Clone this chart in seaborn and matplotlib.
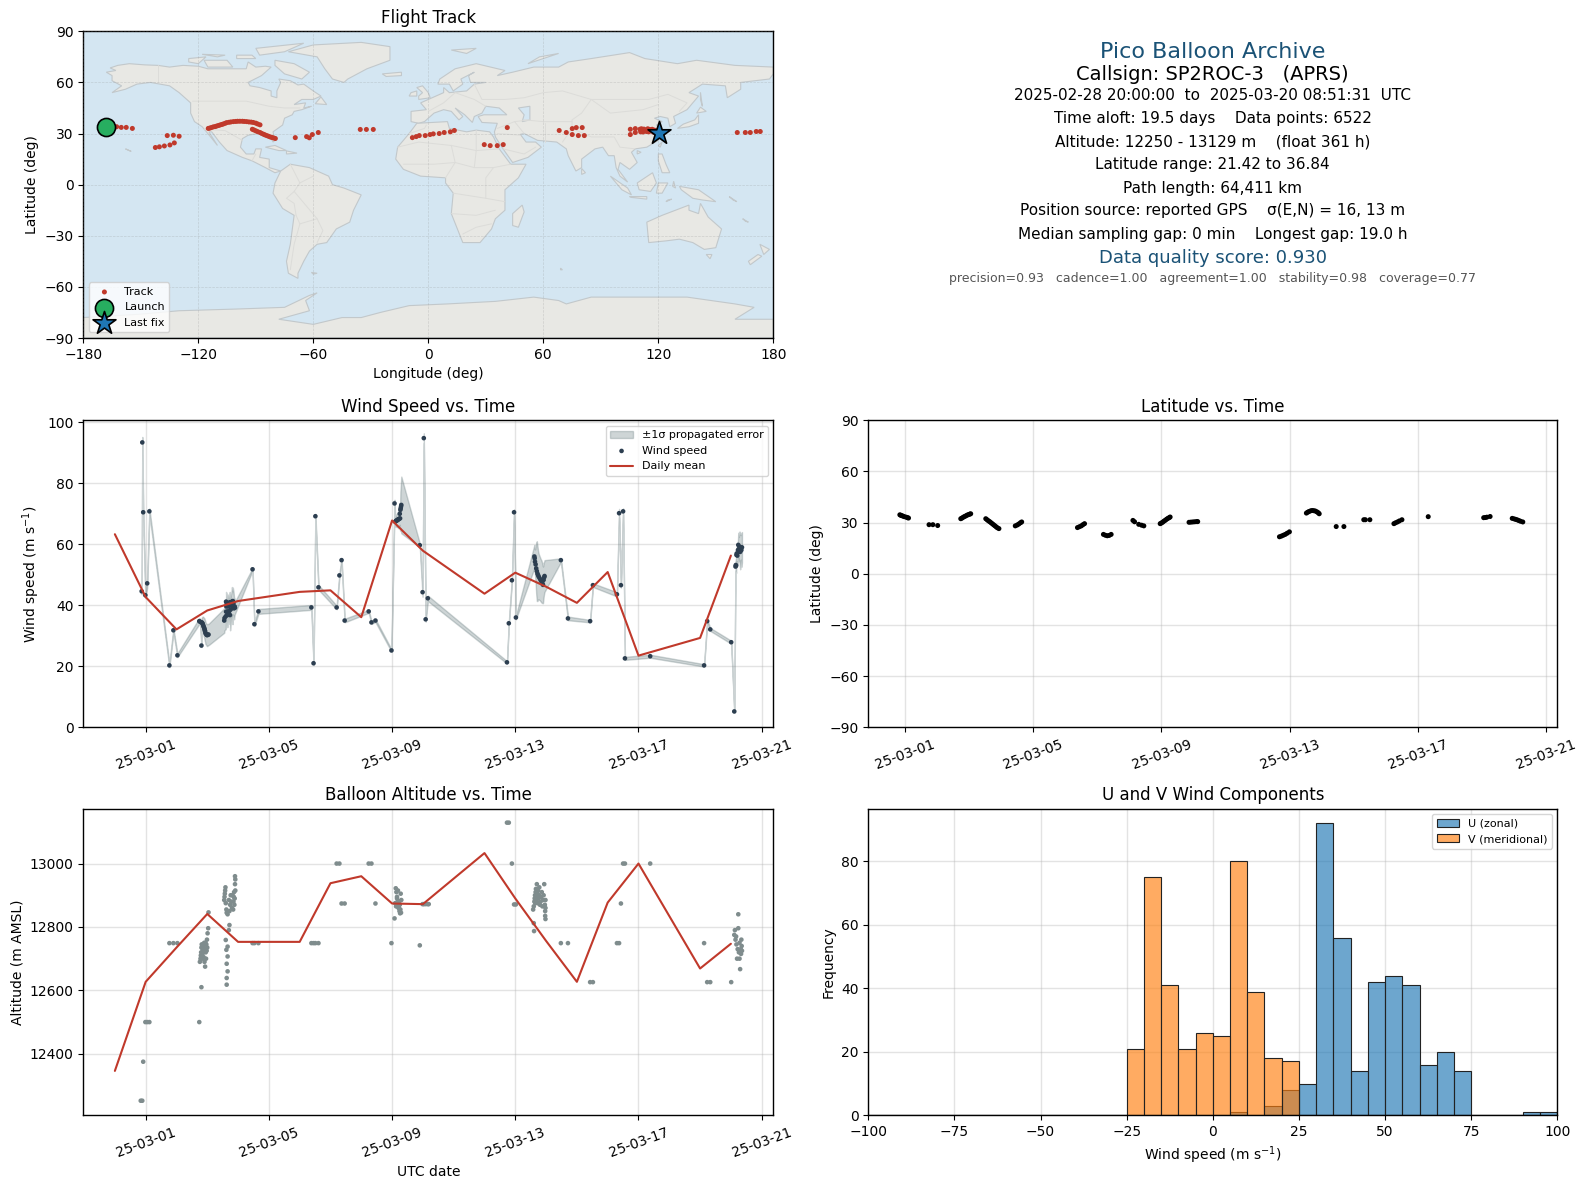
import numpy as np
import pandas as pd
import matplotlib
matplotlib.use("Agg")
import matplotlib.pyplot as plt
import matplotlib.dates as mdates
import seaborn as sns

W, H = 1587, 1189
BASE = pd.Timestamp("2025-03-01")

# ---------- flight track (lon, lat) ----------
track_lon = [-168,-165,-162.6,-160.2,-157.6,-154.4,-142.4,-140.3,-137.7,-134.8,-132.5,-136.2,-133,-130,
 -114.8,-114,-113.2,-112.2,-111.2,-110.4,-109.5,-108.7,-107.8,-107,-106,-105.2,-104,-103,-101.7,-100.5,-99.5,-98.3,-97,-96,-94.8,-93.6,-92.4,-91.3,-90,-89,-87.8,
 -91.8,-91,-90,-89,-87.8,-87,-86,-85.2,-84.3,-83.4,-82.5,-81.6,-80.7,-79.8,
 -69.4,-63.5,-62.1,-60.5,-57.4,-35.5,-32.3,-28.7,-8.3,-6.3,-4.7,-1.6,0.9,2.6,5.7,8.3,11.5,13.6,
 29.2,32.3,36,39.1,41.2,68.3,72,75.1,77.2,80.3,75.1,78.3,81.4,
 105.4,105.4,108,108,110.4,110.8,111.2,112,112.5,113,113.8,114.5,115,115.5,116.2,116.8,117.5,118,118.8,119.5,120.3,
 161.2,165.4,168,171.1,173.2]
track_lat = [34.1,34.2,34,33.6,33.6,33,21.8,22.2,22.7,23.3,24.5,28.8,29,28.4,
 33,33.2,33.5,33.9,34.1,34.4,34.7,35,35.3,35.6,36,36.4,36.6,36.8,37,37.1,37.2,37.2,37.2,37.1,37,36.8,36.7,36.5,36.1,35.6,35.1,
 32.5,32.1,31.6,31.1,30.6,30.1,29.6,29.2,28.8,28.4,28,27.7,27.4,27.1,
 27.6,28.2,27.5,29.4,30.6,32.4,32.4,32.4,27.6,28.2,28.8,28.8,29.4,29.8,30,30.6,31,31.8,
 23.5,22.9,22.9,23.5,33.5,31.8,30.6,32.9,33.5,33.5,29.4,28.8,28.8,
 32.5,29.4,32.9,30.6,32.5,31,32.8,30.9,32.6,32,31.2,32.8,31,32.4,31.6,32.5,30.8,32,31.2,31.6,30.6,
 30.6,30.6,30.6,31.2,31.2]
launch_lon, launch_lat = [-168], [34.1]
last_lon, last_lat = [120.3], [30.6]

# ---------- coarse geography (lon, lat) ----------
north_america = [(-168,66),(-163,67),(-166,68.5),(-162,70),(-156,71),(-148,70.3),(-141,70),(-135,69),(-128,70),(-120,69.5),(-115,68),(-108,68),(-100,68),(-95,68),(-94,72),(-90,69),(-85,69.5),(-82,69),(-87,64),(-94,60),(-93,58),(-88,57),(-82,55),(-82,52),(-79,51),(-79,55),(-77,60),(-78,62),(-72,61),(-68,58.5),(-65,59),(-60,55),(-56,52),(-60,50),(-66,50),(-70,47),(-64,48),(-65,45),(-61,46),(-66,44),(-70,43),(-71,41),(-75,39),(-76,35),(-81,31),(-80,26),(-81,25),(-83,29),(-89,30),(-94,29),(-97,27),(-98,22),(-95,18),(-91,18),(-90,21),(-87,21),(-88,16),(-83,15),(-83,10),(-80,9),(-77,8),(-80,7),(-85,10),(-92,14),(-97,16),(-105,20),(-109,25),(-113,31),(-114.5,31),(-110,23),(-115,30),(-118,34),(-122,37),(-124,42),(-124,48),(-130,54),(-135,58),(-145,60),(-152,59),(-158,56),(-165,54),(-160,58),(-165,61),(-165,64)]
south_america = [(-77,8),(-72,12),(-62,10),(-52,5),(-50,0),(-44,-2),(-35,-6),(-39,-15),(-41,-22),(-48,-26),(-53,-34),(-58,-35),(-62,-39),(-65,-45),(-68,-52),(-68,-55),(-73,-52),(-74,-45),(-72,-35),(-70,-18),(-76,-14),(-81,-5),(-80,1)]
greenland = [(-73,78),(-60,82),(-35,83.5),(-20,81),(-20,73),(-32,68),(-42,62),(-44,60),(-50,62),(-54,68),(-58,75)]
eurasia = [(-9,37),(-9,43),(-1,44),(-4,48),(2,51),(8,54),(8,57),(11,54),(20,55),(24,59),(30,60),(22,60),(21,64),(24,66),(17,62),(18,59),(13,55),(11,59),(5,59),(6,62),(14,68),(25,71),(40,67),(36,64),(44,66),(55,69),(68,69),(73,72),(85,74),(105,77.5),(113,74),(130,71),(140,73),(160,70),(180,69),(180,65),(178,62),(163,60),(163,56),(156,51),(155,58),(143,59),(136,54),(141,52),(135,44),(128,40),(129,36),(126,34),(125,39),(121,40),(118,39),(122,37),(119,35),(122,31),(120,26),(114,22),(108,21),(106,19),(109,13),(105,9),(100,13),(99,9),(104,1.5),(100,5),(98,10),(97,17),(94,17),(91,22),(87,21),(80,15),(80,10),(77,8),(73,17),(72,21),(67,25),(57,26),(50,30),(48,29.5),(51,25),(56,25),(59,22),(52,16),(44,13),(39,21),(35,28),(34.5,31),(36,36),(28,36.5),(26,40),(29,41),(41,41),(37,45),(30,46),(28,42),(24,40),(23,36.5),(19,41),(14,45),(18,40),(16,38),(12,43),(8,44),(3,42),(0,39),(-2,37),(-5,36)]
africa = [(-6,36),(10,37),(11,33),(20,31),(25,32),(32,31),(34,28),(37,21),(43,12),(51,12),(47,4),(40,-3),(40,-15),(35,-20),(33,-26),(27,-34),(18,-34),(12,-17),(13,-5),(9,1),(9,4),(-4,5),(-13,9),(-17,15),(-16,22),(-10,30)]
australia = [(114,-22),(122,-18),(129,-15),(136,-12),(136,-15),(141,-17),(142,-11),(146,-19),(153,-26),(150,-37),(144,-38),(138,-34),(131,-32),(124,-33),(115,-34)]
antarctica = [(-180,-90),(-180,-78),(-150,-76),(-130,-74),(-100,-73),(-75,-72),(-62,-65),(-58,-63.5),(-64,-68),(-62,-74),(-78,-79),(-60,-82),(-45,-78),(-35,-78),(-25,-75),(-10,-71),(10,-70),(35,-68.5),(55,-66),(68,-68),(72,-70),(85,-66),(110,-66),(135,-66),(160,-70),(170,-72),(160,-79),(180,-79),(180,-90)]
islands = [
 [(-80,73),(-70,71),(-62,66),(-66,62),(-75,65),(-80,70)],
 [(-117,73),(-105,73),(-102,69),(-115,69)],
 [(-90,80),(-65,83),(-75,78),(-88,76)],
 [(-125,74),(-116,75),(-120,71),(-125,72)],
 [(-100,76),(-92,76),(-90,74),(-100,74)],
 [(-118,76.5),(-106,76),(-110,75)],
 [(-59,47.5),(-53,47),(-56,51.5)],
 [(-85,22),(-80,23),(-74,20),(-78,20)],
 [(-74,19.8),(-68.5,18.5),(-74,18)],
 [(49,-12),(50,-16),(47,-25),(44,-24),(44,-17)],
 [(-5,50),(1,51),(0,54),(-3,58),(-6,57),(-3,54),(-5,52)],
 [(-10,52),(-6,52),(-6,55),(-9,54)],
 [(-24,65),(-14,66),(-14,64),(-22,63.5)],
 [(12,79),(25,80),(20,77)],
 [(52,71),(68,77),(58,75)],
 [(130,33),(136,34),(141,36),(141,41),(139,38),(133,35.5)],
 [(140,42),(145,43),(142,45.5)],
 [(142,54),(143,46),(142,50)],
 [(120,23),(122,25),(121,22)],
 [(120,18),(122,18),(124,12),(126,7),(122,7),(120,14)],
 [(109,1),(117,7),(119,1),(116,-4),(110,-3)],
 [(95,5),(104,-2),(106,-6),(101,-3)],
 [(105,-7),(114,-7),(114,-8.5),(106,-7.5)],
 [(119,-5),(120,1),(125,1),(122,-5)],
 [(131,-1),(141,-3),(150,-10),(143,-9),(138,-8),(132,-3)],
 [(145,-41),(148,-41),(147,-43.5)],
 [(173,-35),(178,-38),(175,-41)],
 [(172,-41),(174,-42),(168,-47),(167,-45)],
 [(80,9.5),(82,7),(80,6)],
 [(-158,21),(-155,19.5),(-156,20)],
 [(164,-20),(167,-22),(165.5,-21.5)],
 [(157,-7),(161,-10),(159,-9)],
 [(69,-49),(70,-50),(69,-50)],
 [(-61,-51.5),(-58,-52),(-60,-52.5)],
 [(124,-10),(127,-8.5),(125,-9)],
 [(128,2),(129,-2),(127.5,-1)],
 [(109,20),(111,19),(109,18)],
]
caspian = [(47,45),(53,46),(53,38),(49,37),(50,41)]
borders = [
 [(-141,70),(-141,60)], [(-123,49),(-95,49),(-83,46),(-75,45),(-67,45)], [(-117,32.5),(-106,31.7),(-97,26)],
 [(-92,14),(-90,18)], [(-72,12),(-67,1),(-70,-4),(-74,-8),(-70,-11),(-69,-18)], [(-60,5),(-67,1)], [(-70,-4),(-58,-20),(-55,-27),(-58,-34)],
 [(-69,-18),(-67,-23),(-70,-35),(-72,-50)], [(-67,-23),(-58,-20)],
 [(-10,30),(-2,33),(-1,35)], [(-16,22),(-5,25),(12,23),(25,20),(37,21)], [(25,32),(25,20),(24,10),(34,10),(43,12)], [(12,23),(14,13),(3,12),(-13,12)],
 [(14,13),(24,10)], [(9,4),(14,13)], [(13,-5),(30,-8),(40,-10)], [(30,-8),(30,4),(34,10)], [(12,-17),(25,-18),(35,-15)], [(18,-29),(25,-25),(33,-23)],
 [(0,43),(8,48),(14,54)], [(14,54),(24,50),(30,46)], [(24,59),(28,50),(40,50),(50,51),(60,54),(70,55),(85,50),(100,50),(115,50),(125,53),(135,48),(131,43)],
 [(85,50),(80,42),(75,38),(75,33),(85,28),(97,28),(100,22),(108,21)], [(85,50),(95,42),(112,44),(120,47)], [(50,38),(60,37),(75,37)], [(45,37),(50,30)], [(61,36),(61,25)],
 [(36,33),(45,37),(53,38)], [(75,33),(70,25)], [(36,30),(48,29)], [(39,21),(50,18),(56,22)],
]

# ---------- wind speed vs time (days since 2025-03-01, m/s) ----------
wind_t = [-0.13,-0.11,-0.08,-0.01,0.05,0.12,0.77,0.90,1.03,
 1.74,1.77,1.81,1.82,1.84,1.85,1.87,1.88,1.90,1.91,1.92,1.93,1.94,1.96,1.98,2.00,2.02,2.04,
 2.55,2.56,2.60,2.61,2.61,2.62,2.63,2.65,2.66,2.68,2.69,2.71,2.73,2.74,2.76,2.78,2.80,2.82,2.83,2.85,2.87,2.89,2.90,
 3.47,3.53,3.66,5.38,5.45,5.51,5.61,6.20,6.29,6.36,6.46,7.24,7.33,7.46,7.98,8.08,
 8.10,8.12,8.14,8.16,8.18,8.20,8.21,8.23,8.25,8.26,8.27,8.28,8.29,8.30,8.90,8.99,9.03,9.09,9.16,
 11.73,11.79,11.89,11.96,12.02,
 12.62,12.63,12.64,12.66,12.68,12.70,12.72,12.74,12.76,12.79,12.82,12.85,12.88,12.90,12.92,12.94,12.95,
 13.48,13.71,14.43,14.52,15.30,15.37,15.43,15.50,15.56,16.38,18.13,18.23,18.33,19.01,19.11,
 19.15,19.16,19.17,19.18,19.19,19.21,19.23,19.24,19.26,19.28,19.30,19.32,19.34,19.36]
wind_v = [44.6,93.4,70.5,43.3,47.2,70.8,20.3,31.8,23.6,
 34.8,34.6,26.8,34.4,34.2,33.9,33.4,33,32.6,32.2,31.8,31.5,30.9,30.6,30.3,30.2,30.4,30.4,
 35,35.8,36.4,37.9,41.2,39.6,40.8,36.8,38,39.6,40.2,38,41,36.8,38.6,40,41.2,39.2,41.4,40.6,39,39.6,39.2,
 51.8,33.8,38,39.3,21,69.2,45.9,39.3,49.8,54.8,35,38,34.4,35,25.2,73.4,
 67.4,67.6,67.8,67.8,68,68.2,68.2,68.4,70,68.5,71.3,71.8,72.4,72.9,59.7,44.3,94.8,35.4,42.3,
 21.3,34.1,48.2,70.5,36,
 56,55.4,54.3,53.4,52.1,51.2,50.4,49.9,49.4,48.9,48.3,47.8,47.2,46.7,48.3,49.2,49.6,
 54.8,35.7,34.8,46.6,43.6,70.2,46.6,70.8,22.6,23.3,20.3,34.8,32.1,27.9,5.2,
 52.7,53.2,53,56.5,57,56.3,58.1,59.8,58.4,59.2,57.5,59,58.1,59]
wind_sigma = [1,1.8,1.6,1,1.5,1,0.6,0.7,0.6,
 1,1,0.5,1.5,2,2.4,2.8,3,3.2,3.4,3.5,3.5,3.6,3.5,3.6,3.6,3.5,3.5,
 4,4,4.2,3,3.2,3,3,4,4,3.6,3.4,4,3.4,5,4.5,4,4.8,5.4,4.4,4,3.6,2.6,2,
 0.4,0.6,0.8,0.8,0.6,0.8,0.8,0.6,0.7,0.7,0.6,0.5,0.5,0.5,0.4,1.2,
 1.5,1.8,2,2.2,2.4,2.6,3,3,3.6,4,6,7,8,9.3,0.6,1.5,1.6,0.8,0.9,
 0.4,0.5,0.7,1,0.6,
 3.8,3.8,4,6,8.5,9.8,9,8,7.5,7.2,7,6.9,6.5,6,5.6,5.2,5.2,
 0.6,0.6,0.4,0.6,0.7,1.4,0.8,1,0.5,0.5,0.4,0.6,0.5,0.5,0.4,
 1.6,2,2.4,2.2,2.6,3,3.4,4,4,5,5.7,4,5.5,5]
mean_days = [-1,0,1,2,3,5,6,7,8,9,11,12,13,14,15,16,18,19]
mean_wind = [63.3,42.7,32.1,38.3,41.4,44.4,44.9,36.1,67.8,57.9,43.8,50.7,46.1,40.8,50.9,23.5,29.3,56.3]
mean_alt = [12346,12627,12735,12841,12753,12753,12938,12960,12874,12872,13033,12890,12756,12627,12877,13000,12669,12747]

# ---------- latitude vs time ----------
lat_t = [-0.16,-0.13,-0.10,-0.06,-0.02,0.04,0.08,0.11,0.75,0.87,1.02,
 1.74,1.78,1.82,1.86,1.90,1.94,1.98,2.02,2.05,
 2.52,2.56,2.60,2.64,2.68,2.72,2.76,2.80,2.84,2.88,2.93,
 3.44,3.50,3.55,3.60,3.64,5.38,5.44,5.50,5.55,5.60,
 6.19,6.25,6.31,6.37,6.43,7.11,7.16,7.29,7.38,7.45,
 7.96,8.00,8.04,8.08,8.12,8.16,8.20,8.24,8.27,8.86,8.92,8.98,9.04,9.10,9.13,
 11.68,11.74,11.80,11.86,11.92,11.99,
 12.52,12.56,12.60,12.65,12.70,12.75,12.80,12.85,12.89,12.92,13.45,13.69,14.31,14.36,14.50,
 15.25,15.30,15.36,15.42,15.50,16.32,18.05,18.10,18.15,18.25,
 18.94,19.00,19.05,19.10,19.15,19.20,19.27]
lat_v = [34.6,34.3,34.1,33.8,33.5,33.2,32.9,32.7,28.8,28.8,28.3,
 32.3,32.7,33.2,33.6,34,34.4,34.7,35,35.2,
 32.3,31.7,31.1,30.6,30,29.4,28.8,28.2,27.6,27,26.5,
 28.1,28.6,29.2,29.9,30.4,27.1,27.6,28.1,28.8,29.4,
 23.1,22.6,22.3,22.5,23.1,31.3,30.5,29,28.5,28.1,
 29.4,29.8,30.3,30.9,31.4,32,32.5,32.9,33.3,30.2,30.3,30.4,30.5,30.6,30.6,
 21.7,22.1,22.6,23.1,23.8,24.6,
 35.6,36.1,36.5,36.9,37.1,37,36.8,36.3,35.8,35.2,27.7,27.7,31.7,31.7,31.7,
 29.4,29.9,30.4,31,31.7,33.5,32.9,33,33.2,33.6,
 32.5,32.2,31.9,31.6,31.2,30.8,30.4]

# ---------- altitude vs time ----------
alt_t = [-0.16,-0.11,-0.08,-0.01,0.05,0.12,0.77,0.90,1.03,1.74,1.81,
 1.76,1.78,1.79,1.80,1.81,1.82,1.83,1.84,1.85,1.86,1.87,1.88,1.89,1.90,1.91,1.92,1.93,1.94,1.95,1.96,1.97,1.98,1.99,2.00,2.01,2.03,2.04,
 2.63,2.63,2.66,2.63,2.66,2.62,2.66,2.60,2.70,2.72,
 2.55,2.56,2.57,2.58,2.59,2.60,2.62,2.63,2.66,2.70,2.72,2.74,2.76,2.78,2.80,2.82,2.84,2.85,2.86,2.87,2.88,2.89,2.90,2.90,2.91,2.91,
 3.47,3.53,3.66,5.38,5.45,5.51,5.61,6.20,6.29,6.36,6.46,7.24,7.33,7.46,7.98,8.08,
 8.12,8.14,8.16,8.18,8.20,8.22,8.24,8.26,8.28,8.30,8.10,8.13,8.16,8.19,8.21,8.23,8.25,8.27,8.29,8.90,8.99,9.03,9.09,9.16,9.19,
 11.73,11.79,11.89,11.96,12.02,12.60,12.61,
 12.58,12.60,12.62,12.63,12.64,12.65,12.66,12.67,12.68,12.69,12.70,12.72,12.73,12.74,12.75,12.77,12.78,12.80,12.82,12.84,12.86,12.88,12.90,12.92,12.94,12.96,12.97,12.97,12.98,12.98,12.98,
 13.48,13.71,14.43,14.52,15.30,15.37,15.43,15.50,15.56,16.38,18.13,18.23,18.33,19.01,19.11,19.13,19.15,19.17,
 19.18,19.20,19.22,19.24,19.24,19.26,19.28,19.28,19.30,19.32,19.33,19.34,19.35,19.36]
alt_v = [12252,12252,12375,12500,12500,12500,12749,12749,12749,12500,12610,
 12690,12700,12710,12720,12735,12745,12700,12715,12730,12745,12720,12705,12735,12750,12690,12730,12675,12750,12720,12700,12745,12725,12760,12735,12780,12796,12846,
 12618,12639,12660,12684,12707,12728,12738,12759,12790,12806,
 12885,12895,12905,12915,12925,12875,12855,12845,12840,12885,12850,12870,12900,12880,12860,12900,12855,12880,12895,12910,12870,12890,12960,12935,12915,12950,
 12749,12749,12749,12749,12749,12749,12749,13000,13000,12874,12874,13000,13000,12874,12749,12827,
 12922,12910,12895,12880,12870,12860,12850,12843,12905,12885,12875,12865,12890,12915,12860,12880,12870,12855,12845,12742,12872,12872,12872,12872,12872,
 13129,13129,13000,12871,12871,12812,12787,
 12855,12865,12880,12890,12900,12875,12910,12920,12895,12885,12935,12905,12875,12915,12890,12900,12925,12870,12880,12895,12910,12865,12885,12900,12935,12870,12850,12835,12885,12860,12825,
 12749,12749,12626,12626,12749,12749,12874,13000,13000,13000,12749,12626,12626,12626,12775,12790,12760,12770,
 12745,12700,12730,12840,12796,12720,12750,12700,12667,12730,12715,12760,12740,12725]

# ---------- histogram ----------
bin_edges = list(range(-100, 105, 5))
u_counts = [0]*21 + [1,0,3,8,10,92,56,14,42,44,41,16,20,14,0,0,0,1,1]
v_counts = [0]*15 + [21,75,41,21,26,25,80,39,18,17] + [0]*15

# ---------- info panel ----------
info_lines = [
 ("Pico Balloon Archive", 16, "#1a5276", 52),
 ("Callsign: SP2ROC-3   (APRS)", 14, "black", 75),
 ("2025-02-28 20:00:00  to  2025-03-20 08:51:31  UTC", 11, "black", 96),
 ("Time aloft: 19.5 days    Data points: 6522", 11, "black", 119),
 ("Altitude: 12250 - 13129 m    (float 361 h)", 11, "black", 142),
 ("Latitude range: 21.42 to 36.84", 11, "black", 165),
 ("Path length: 64,411 km", 11, "black", 188),
 ("Position source: reported GPS    σ(E,N) = 16, 13 m", 11, "black", 211),
 ("Median sampling gap: 0 min    Longest gap: 19.0 h", 11, "black", 234),
 ("Data quality score: 0.930", 13, "#1a5276", 258),
 ("precision=0.93   cadence=1.00   agreement=1.00   stability=0.98   coverage=0.77", 9, "#555555", 279),
]

RED = "#c0392b"
NAVY = "#2c3e50"
GREY = "#7f8c8d"
TICK_DAYS = [1, 5, 9, 13, 17, 21]

def to_dates(days):
    return BASE + pd.to_timedelta(np.asarray(days, dtype=float), unit="D")

def make_axes(l, t, r, b):
    return fig.add_axes([l / W, 1 - b / H, (r - l) / W, (b - t) / H])

def soft_grid(ax):
    ax.grid(True, color="#b0b0b0", alpha=0.35, linewidth=1)
    ax.set_axisbelow(True)

def date_axis(ax, t0=-2.025, t1=20.377):
    ax.set_xlim(to_dates([t0])[0], to_dates([t1])[0])
    ax.xaxis.set_major_locator(mdates.DayLocator(bymonthday=TICK_DAYS))
    ax.xaxis.set_major_formatter(mdates.DateFormatter("%y-%m-%d"))
    ax.tick_params(axis="x", rotation=20)
    ax.set_xlabel("")

sns.set_theme(style="white", rc={"axes.edgecolor": "black", "axes.linewidth": 1.0,
                                  "xtick.bottom": True, "ytick.left": True,
                                  "text.color": "black", "axes.labelcolor": "black",
                                  "xtick.color": "black", "ytick.color": "black",
                                  "font.size": 10, "axes.labelsize": 10, "axes.titlesize": 12,
                                  "xtick.labelsize": 10, "ytick.labelsize": 10,
                                  "xtick.major.size": 3.5, "ytick.major.size": 3.5,
                                  "xtick.major.width": 0.8, "ytick.major.width": 0.8,
                                  "font.family": "DejaVu Sans"})

fig = plt.figure(figsize=(W / 100, H / 100), dpi=100)
L1, R1, L2, R2 = 83.3, 773.3, 868.3, 1557.3
ax_map = make_axes(L1, 31.3, R1, 338)
ax_info = make_axes(L2, 31.3, R2, 338)
ax_wind = make_axes(L1, 420.3, R1, 727.3)
ax_lat = make_axes(L2, 420.3, R2, 727.3)
ax_alt = make_axes(L1, 808.7, R1, 1115.3)
ax_hist = make_axes(L2, 808.7, R2, 1115.3)

# --- map ---
ax_map.set_facecolor("#d4e6f2")
for poly in [north_america, south_america, greenland, eurasia, africa, australia, antarctica] + islands:
    xs, ys = zip(*poly)
    ax_map.fill(xs, ys, facecolor="#e8e8e4", edgecolor="#c2c8cb", linewidth=0.8, zorder=1)
xs, ys = zip(*caspian)
ax_map.fill(xs, ys, facecolor="#d4e6f2", edgecolor="#c2c8cb", linewidth=0.8, zorder=1.1)
for line in borders:
    xs, ys = zip(*line)
    ax_map.plot(xs, ys, color="#dcdcd9", linewidth=0.7, zorder=1.2)
ax_map.grid(True, color="#808080", alpha=0.25, linestyle="--", linewidth=0.5, zorder=1.5)
ax_map.set_axisbelow(False)
sns.scatterplot(x=track_lon, y=track_lat, ax=ax_map, color=RED, s=13, edgecolor="none", label="Track", zorder=3)
sns.scatterplot(x=launch_lon, y=launch_lat, ax=ax_map, color="#27ae60", s=170, edgecolor="black", linewidth=1.2, label="Launch", zorder=4)
sns.scatterplot(x=last_lon, y=last_lat, ax=ax_map, color="#1f77b4", marker="*", s=300, edgecolor="black", linewidth=1.2, label="Last fix", zorder=5)
ax_map.set_xlim(-180, 180)
ax_map.set_ylim(-90, 90)
ax_map.set_xticks(range(-180, 181, 60))
ax_map.set_yticks(range(-90, 91, 30))
ax_map.set_xlabel("Longitude (deg)")
ax_map.set_ylabel("Latitude (deg)")
ax_map.set_title("Flight Track")
ax_map.legend(loc="lower left", fontsize=8, frameon=True, framealpha=0.8, edgecolor="#cccccc")

# --- info ---
ax_info.axis("off")
for text, size, color, ypx in info_lines:
    fig.text((L2 + R2) / 2 / W, 1 - ypx / H, text, fontsize=size, color=color, ha="center", va="center")

# --- wind ---
wt = to_dates(wind_t)
wv = np.array(wind_v)
ws = np.array(wind_sigma)
soft_grid(ax_wind)
ax_wind.fill_between(wt, wv - ws, wv + ws, color="#5f7578", alpha=0.3, linewidth=1.0, label="±1σ propagated error", zorder=2)
sns.scatterplot(x=wt, y=wv, ax=ax_wind, color=NAVY, s=11, edgecolor="none", label="Wind speed", zorder=3)
sns.lineplot(x=to_dates(mean_days), y=mean_wind, ax=ax_wind, color=RED, linewidth=1.5, estimator=None, label="Daily mean", zorder=4)
date_axis(ax_wind)
ax_wind.set_ylim(0, 100.65)
ax_wind.set_yticks(range(0, 101, 20))
ax_wind.set_ylabel("Wind speed (m s$^{-1}$)")
ax_wind.set_title("Wind Speed vs. Time")
ax_wind.legend(loc="upper right", fontsize=8, frameon=True, framealpha=0.8, edgecolor="#cccccc")

# --- latitude ---
soft_grid(ax_lat)
sns.scatterplot(x=to_dates(lat_t), y=lat_v, ax=ax_lat, color="black", s=13, edgecolor="none", zorder=3)
date_axis(ax_lat, -1.144, 20.346)
ax_lat.set_ylim(-90, 90)
ax_lat.set_yticks(range(-90, 91, 30))
ax_lat.set_ylabel("Latitude (deg)")
ax_lat.set_title("Latitude vs. Time")

# --- altitude ---
soft_grid(ax_alt)
sns.scatterplot(x=to_dates(alt_t), y=alt_v, ax=ax_alt, color=GREY, s=11, edgecolor="none", zorder=3)
sns.lineplot(x=to_dates(mean_days), y=mean_alt, ax=ax_alt, color=RED, linewidth=1.5, estimator=None, zorder=4)
date_axis(ax_alt)
ax_alt.set_ylim(12206, 13173)
ax_alt.set_yticks(range(12400, 13001, 200))
ax_alt.set_xlabel("UTC date")
ax_alt.set_ylabel("Altitude (m AMSL)")
ax_alt.set_title("Balloon Altitude vs. Time")

# --- histogram ---
soft_grid(ax_hist)
centers = (np.array(bin_edges[:-1]) + np.array(bin_edges[1:])) / 2
sns.histplot(x=centers, weights=u_counts, bins=bin_edges, ax=ax_hist, color="#1f77b4", alpha=0.65,
             edgecolor="#222222", linewidth=0.8, label="U (zonal)", zorder=2)
sns.histplot(x=centers, weights=v_counts, bins=bin_edges, ax=ax_hist, color="#ff7f0e", alpha=0.65,
             edgecolor="#222222", linewidth=0.8, label="V (meridional)", zorder=2)
ax_hist.set_xlim(-100, 100)
ax_hist.set_ylim(0, 96.6)
ax_hist.set_xticks(range(-100, 101, 25))
ax_hist.set_yticks(range(0, 81, 20))
ax_hist.set_xlabel("Wind speed (m s$^{-1}$)")
ax_hist.set_ylabel("Frequency")
ax_hist.set_title("U and V Wind Components")
ax_hist.legend(loc="upper right", fontsize=8, frameon=True, framealpha=0.8, edgecolor="#cccccc")

fig.savefig("out.png", dpi=100)
